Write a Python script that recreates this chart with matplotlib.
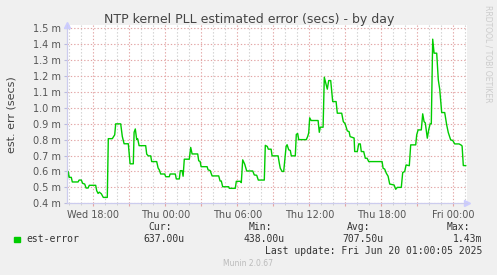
import matplotlib
matplotlib.use("Agg")
import matplotlib.pyplot as plt

# minutes after Wed 18:00, estimated error in ms
minutes = [-133, -126, -120, -110, -105, -76, -71, -60, -53, -43, -36, -26, -20,
           12, 17, 24, 30, 40, 50, 70, 75, 95, 100, 107, 112, 137, 145, 154, 175,
           184, 200, 204, 210, 217, 222, 229, 262, 267, 275, 287, 292, 317, 324,
           330, 337, 357, 362, 380, 384, 410, 415, 430, 435, 444, 449, 455, 480,
           487, 494, 522, 527, 534, 539, 569, 574, 584, 594, 627, 634, 640, 647,
           677, 680, 710, 715, 735, 740, 747, 757, 767, 797, 805, 817, 825, 855,
           860, 870, 875, 889, 894, 924, 930, 935, 944, 952, 964, 969, 977, 985,
           990, 1010, 1015, 1022, 1027, 1065, 1072, 1077, 1082, 1089, 1124, 1130,
           1135, 1149, 1155, 1170, 1177, 1187, 1197, 1214, 1220, 1242, 1250, 1259,
           1270, 1279, 1284, 1304, 1307, 1320, 1327, 1335, 1340, 1352, 1360, 1369,
           1377, 1444, 1449, 1457, 1465, 1474, 1482, 1504, 1512, 1520, 1540, 1547,
           1557, 1564, 1580, 1587, 1612, 1617, 1624, 1640, 1647, 1654, 1660, 1670,
           1677, 1684, 1690, 1697, 1704, 1717, 1725, 1732, 1742, 1757, 1767, 1775,
           1787, 1797, 1807, 1829, 1840, 1844, 1850, 1862]
est_error = [0.508, 0.600, 0.563, 0.563, 0.534, 0.534, 0.546, 0.546, 0.525, 0.521,
             0.496, 0.496, 0.513, 0.513, 0.479, 0.462, 0.470, 0.460, 0.437, 0.437,
             0.806, 0.806, 0.816, 0.830, 0.899, 0.899, 0.820, 0.774, 0.774, 0.648,
             0.648, 0.846, 0.867, 0.800, 0.805, 0.762, 0.762, 0.709, 0.698, 0.698,
             0.662, 0.662, 0.622, 0.610, 0.584, 0.584, 0.567, 0.567, 0.584, 0.584,
             0.553, 0.553, 0.605, 0.605, 0.570, 0.677, 0.677, 0.751, 0.710, 0.710,
             0.667, 0.663, 0.630, 0.630, 0.610, 0.606, 0.572, 0.572, 0.540, 0.540,
             0.504, 0.504, 0.494, 0.494, 0.538, 0.538, 0.530, 0.673, 0.646, 0.603,
             0.603, 0.578, 0.576, 0.546, 0.546, 0.764, 0.757, 0.740, 0.740, 0.698,
             0.698, 0.652, 0.620, 0.600, 0.600, 0.757, 0.768, 0.736, 0.732, 0.698,
             0.698, 0.833, 0.838, 0.800, 0.800, 0.820, 0.842, 0.937, 0.920, 0.920,
             0.846, 0.878, 0.878, 1.192, 1.117, 1.171, 1.171, 1.039, 1.039, 0.966,
             0.966, 0.913, 0.900, 0.855, 0.850, 0.819, 0.810, 0.725, 0.725, 0.773,
             0.773, 0.725, 0.725, 0.683, 0.683, 0.662, 0.662, 0.620, 0.615, 0.589,
             0.570, 0.521, 0.515, 0.488, 0.500, 0.500, 0.593, 0.600, 0.641, 0.636,
             0.767, 0.767, 0.830, 0.861, 0.861, 0.962, 0.913, 0.905, 0.809, 0.861,
             0.899, 0.900, 1.431, 1.343, 1.343, 1.175, 1.117, 0.970, 0.970, 0.892,
             0.844, 0.798, 0.795, 0.773, 0.773, 0.765, 0.760, 0.637, 0.637]

y_ticks = [0.4, 0.5, 0.6, 0.7, 0.8, 0.9, 1.0, 1.1, 1.2, 1.3, 1.4, 1.5]
y_labels = ["0.4 m", "0.5 m", "0.6 m", "0.7 m", "0.8 m", "0.9 m", "1.0 m",
            "1.1 m", "1.2 m", "1.3 m", "1.4 m", "1.5 m"]
x_major = [0, 180, 360, 540, 720, 900, 1080, 1260, 1440, 1620, 1800]
x_labels = ["Wed 18:00", "", "Thu 00:00", "", "Thu 06:00", "", "Thu 12:00", "",
            "Thu 18:00", "", "Fri 00:00"]
x_minor = list(range(-120, 1861, 60))

series_name = "est-error"
stats_heads = ["Cur:", "Min:", "Avg:", "Max:"]
stats_vals = ["637.00u", "438.00u", "707.50u", "1.43m"]

W, H = 497, 275
fig = plt.figure(figsize=(W / 100, H / 100), dpi=100, facecolor="#f0f0f0")
ax = fig.add_axes([67 / W, 1 - 203.3 / H, 400 / W, (203.3 - 25) / H])
ax.set_facecolor("white")

ax.set_xlim(-131.5, 1868.5)
ax.set_ylim(0.4, 1.52)

ax.set_xticks(x_major)
ax.set_xticklabels(x_labels)
ax.set_xticks(x_minor, minor=True)
ax.set_yticks(y_ticks)
ax.set_yticklabels(y_labels)

dots = (0, (1.2, 1.8))
ax.grid(True, which="minor", axis="x", color="#cfcfcf", lw=0.8, linestyle=dots)
ax.grid(True, which="major", axis="both", color="#e3a5a5", lw=0.8, linestyle=dots)
ax.set_axisbelow(True)

ax.tick_params(axis="both", which="major", labelsize=7, labelcolor="#555555",
               length=2.5, width=0.8, pad=2)
ax.tick_params(axis="x", which="major", color="#e3a5a5")
ax.tick_params(axis="y", which="major", color="#bbbbdd")
ax.tick_params(axis="x", which="minor", length=1.5, color="#cccccc")
for lab in ax.get_xticklabels() + ax.get_yticklabels():
    lab.set_family("DejaVu Sans")

for s in ["top", "right"]:
    ax.spines[s].set_visible(False)
for s in ["left", "bottom"]:
    ax.spines[s].set_color("#ccccee")
    ax.spines[s].set_linewidth(0.9)

# axis arrows
ax.plot([1], [0], marker=">", ms=4, color="#ccccff", transform=ax.transAxes,
        clip_on=False)
ax.plot([0], [1], marker="^", ms=4, color="#ccccff", transform=ax.transAxes,
        clip_on=False)

ax.plot(minutes, est_error, color="#00cc00", lw=1.0)

fig.text(248.7 / W, 1 - 19 / H, "NTP kernel PLL estimated error (secs) - by day",
         ha="center", va="center", fontsize=9, color="#444444")
fig.text(12 / W, 1 - 115 / H, "est. err (secs)", rotation=90, ha="center",
         va="center", fontsize=8, color="#444444")
fig.text(488 / W, 1 - 5 / H, "RRDTOOL / TOBI OETIKER", rotation=270,
         ha="center", va="top", fontsize=5.5, color="#cccccc")

mono = "DejaVu Sans Mono"
fig.patches.append(plt.Rectangle((14 / W, 1 - 242 / H), 5.5 / W, 5.5 / H,
                                 transform=fig.transFigure, color="#00cc00"))
fig.text(26 / W, 1 - 239.5 / H, series_name, ha="left", va="center",
         family=mono, fontsize=7, color="#333333")
head_x = [172, 272, 370, 470]
val_x = [185, 285, 383, 482]
for hx, vx, h, v in zip(head_x, val_x, stats_heads, stats_vals):
    fig.text(hx / W, 1 - 227.5 / H, h, ha="right", va="center", family=mono,
             fontsize=7, color="#333333")
    fig.text(vx / W, 1 - 239.5 / H, v, ha="right", va="center", family=mono,
             fontsize=7, color="#333333")
fig.text(482 / W, 1 - 251 / H, "Last update: Fri Jun 20 01:00:05 2025",
         ha="right", va="center", family=mono, fontsize=7, color="#333333")
fig.text(223 / W, 1 - 264 / H, "Munin 2.0.67", ha="left", va="center",
         fontsize=5.5, color="#bbbbbb")

fig.savefig("out.png", dpi=100, facecolor=fig.get_facecolor())
